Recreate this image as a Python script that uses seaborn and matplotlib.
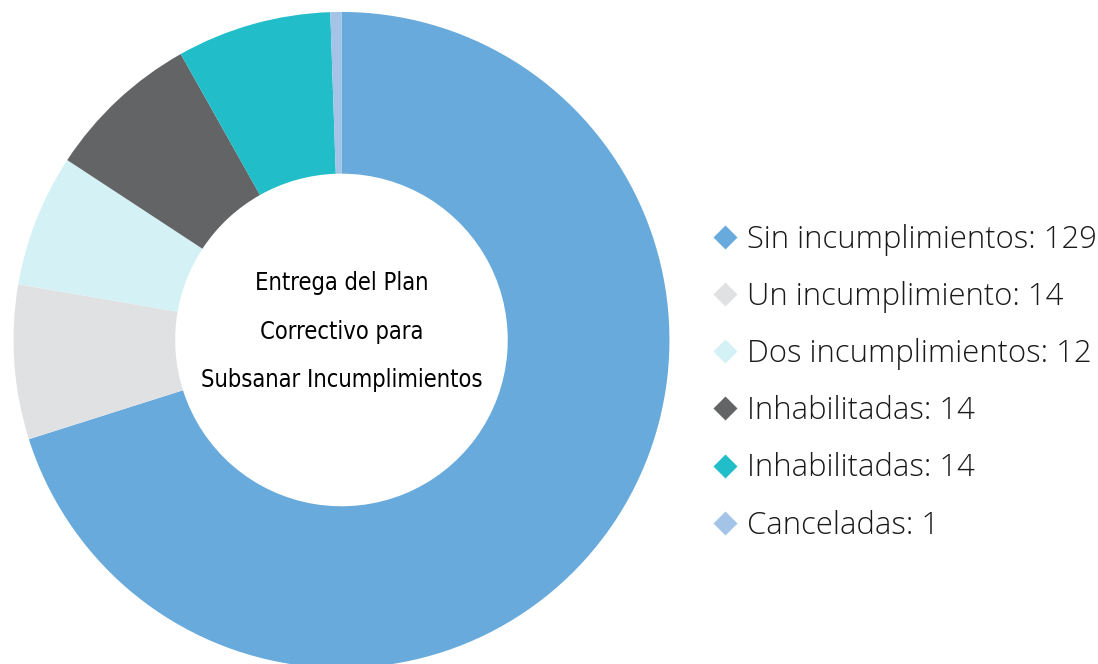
import matplotlib
matplotlib.use("Agg")
import matplotlib.pyplot as plt
from matplotlib.lines import Line2D
import seaborn as sns

# Plan correctivo: estado de las entidades
categories = [
    "Sin incumplimientos",
    "Un incumplimiento",
    "Dos incumplimientos",
    "Inhabilitadas",
    "Inhabilitadas",
    "Canceladas",
]
counts = [129, 14, 12, 14, 14, 1]
colors = ["#67AADB", "#E0E1E3", "#D4F1F5", "#636466", "#21BDC8", "#A3C4E6"]
center_title = "Entrega del Plan\nCorrectivo para\nSubsanar Incumplimientos"

sns.set_theme(style="white")
plt.rcParams["font.family"] = ["Open Sans", "DejaVu Sans"]

fig = plt.figure(figsize=(10.98, 6.64), dpi=100)
fig.patch.set_facecolor("white")

# square axes holding the donut
ax = fig.add_axes([0.0123, -0.006, 0.5974, 0.988])

palette = sns.color_palette(colors)
ax.pie(
    counts,
    colors=palette,
    startangle=90,
    counterclock=False,
    radius=1.0,
    wedgeprops=dict(width=0.493, edgecolor="none", linewidth=0),
)
ax.set_xlim(-1, 1)
ax.set_ylim(-1, 1)
ax.set_aspect("auto")
ax.axis("off")

ax.text(
    0, 0.025, center_title,
    ha="center", va="center",
    fontsize=17, linespacing=2.3, color="black",
    family=["DejaVu Sans"], fontstretch="condensed",
)

handles = [
    Line2D([], [], linestyle="none", marker="D", markersize=12,
           markerfacecolor=c, markeredgecolor="none")
    for c in colors
]
labels = [f"{cat}: {n}" for cat, n in zip(categories, counts)]

leg = fig.legend(
    handles, labels,
    loc="center left",
    bbox_to_anchor=(0.635, 0.4235),
    frameon=False,
    fontsize=22.3,
    labelspacing=0.81,
    handletextpad=0.2,
    handlelength=1.0,
    borderaxespad=0,
)
for t in leg.get_texts():
    t.set_fontweight("light")
    t.set_color("#1a1a1a")

fig.savefig("out.png", dpi=100, facecolor="white")
